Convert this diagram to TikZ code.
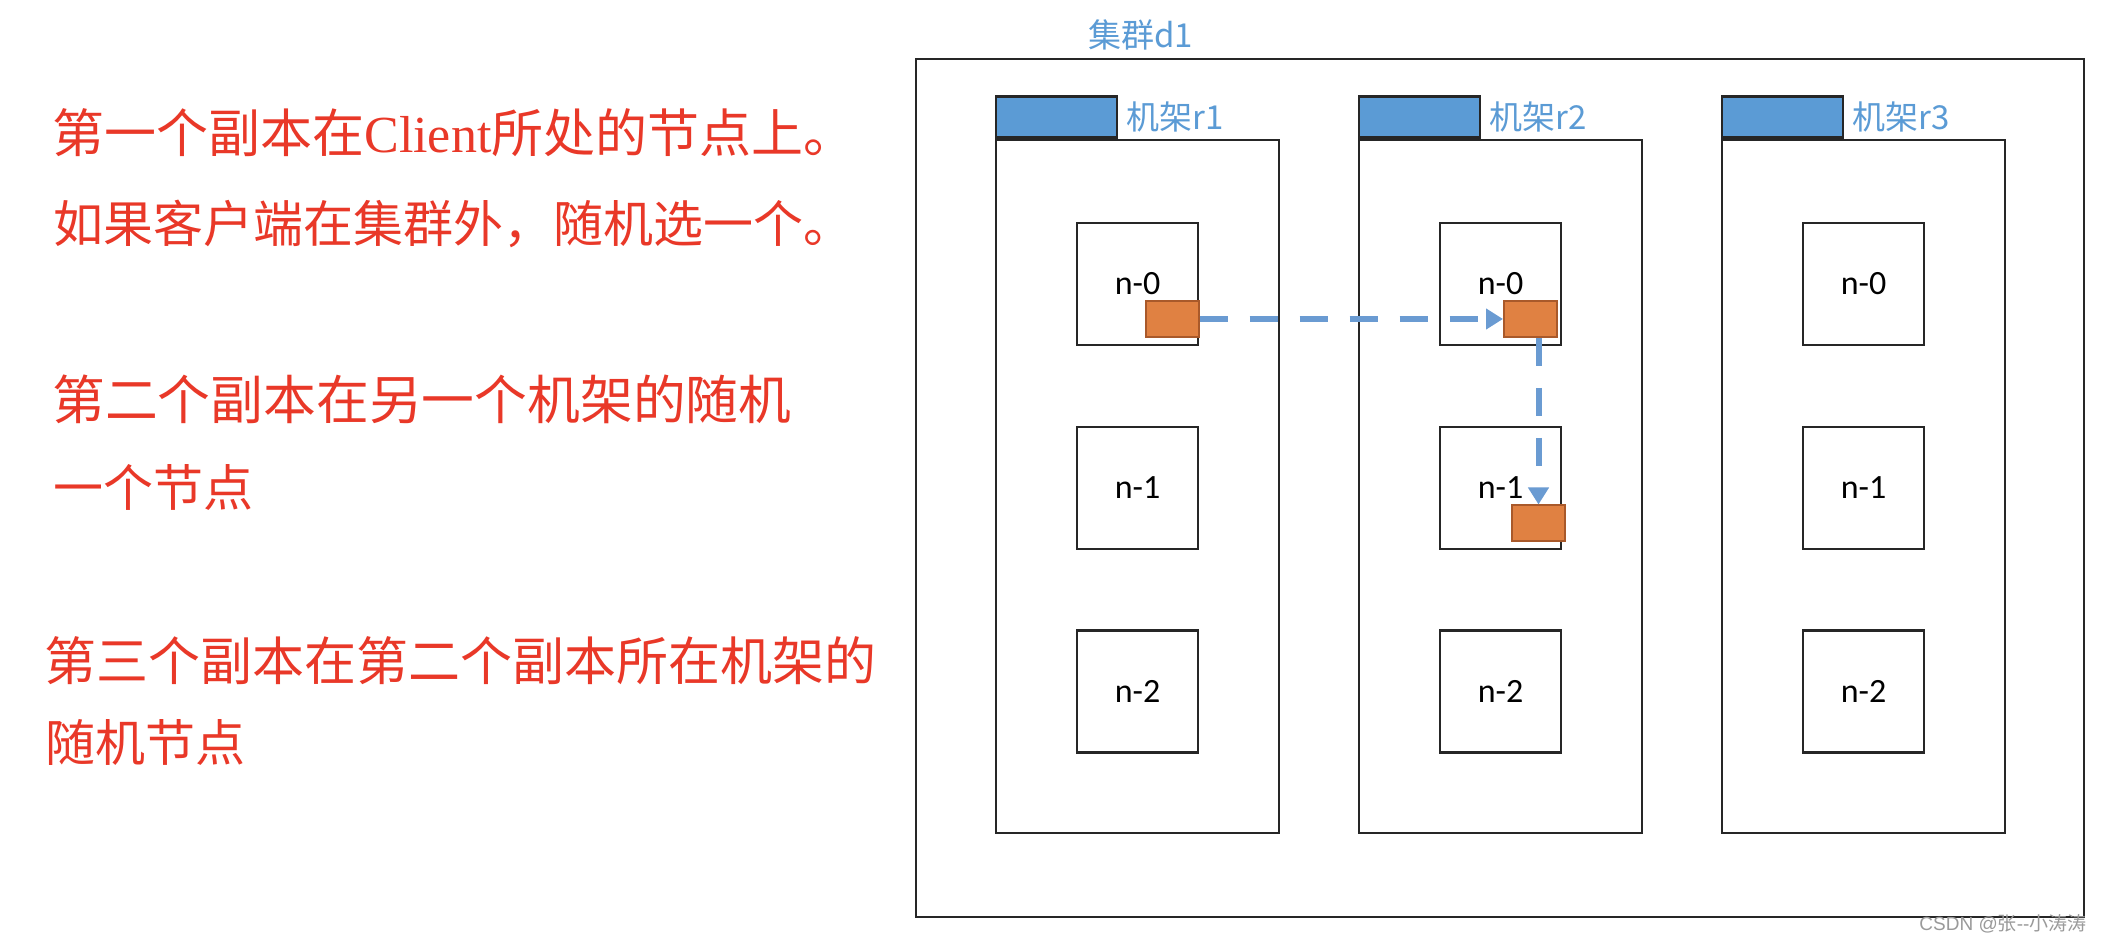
\documentclass[tikz,border=0pt]{standalone}
\usepackage{fontspec}
\setmainfont{Liberation Serif}
\newfontfamily\cjk{Noto Sans CJK SC}
\newfontfamily\lat{Carlito}
\newfontfamily\wmfont{Liberation Sans}
\usetikzlibrary{arrows.meta}
\definecolor{hdrblue}{HTML}{5B9BD5}
\definecolor{lblblue}{HTML}{5B9BD5}
\definecolor{flowblue}{HTML}{6A9BD2}
\definecolor{repfill}{HTML}{E08142}
\definecolor{repdraw}{HTML}{A9592A}
\definecolor{notered}{RGB}{233,56,40}
\definecolor{wmgray}{HTML}{9A9A9A}

\begin{document}
\begin{tikzpicture}[x=0.5pt,y=-0.5pt,
  frame/.style={draw=black!85, line width=1.2pt, fill=white, inner sep=0, rectangle},
  cluster/.style={frame, minimum width=584pt, minimum height=429pt},
  rackbody/.style={frame, minimum width=141.5pt, minimum height=346.5pt},
  rackhead/.style={draw=black!85, line width=1.2pt, fill=hdrblue, minimum width=60.5pt, minimum height=20.5pt, inner sep=0, anchor=south west},
  server/.style={frame, minimum width=60.5pt, minimum height=61pt, font=\lat\fontsize{17}{20}\selectfont},
  replica/.style={draw=repdraw, line width=1pt, fill=repfill, minimum width=26.5pt, minimum height=18pt, inner sep=0},
  tag/.style={text=lblblue, font=\cjk\fontsize{16.5}{20}\selectfont, inner sep=0, anchor=west},
  note/.style={text=notered, inner sep=0, anchor=base west, font=\cjk\fontsize{#1}{30}\selectfont},
  note/.default=26,
  flow/.style={draw=flowblue, line width=3pt, dash pattern=on 14pt off 11pt, -{Triangle[length=8.5pt,width=10pt]}}
]
\useasboundingbox (0,0) rectangle (2106,940);
\fill[white] (0,0) rectangle (2106,940);

% explanatory notes
\node[note=26]   (t1) at (52,153) {第一个副本在{\rmfamily Client}所处的节点上。};
\node[note=25]   (t2) at (53,243) {如果客户端在集群外，随机选一个。};
\node[note=26.4] (t3) at (52,420) {第二个副本在另一个机架的随机};
\node[note=25]   (t4) at (53,507) {一个节点};
\node[note=26]   (t5) at (44,681) {第三个副本在第二个副本所在机架的};
\node[note=25]   (t6) at (45,762) {随机节点};

% cluster
\node[cluster] (cl) at (1500,488) {};
\node[tag] (cltag) at (1088,35) {集群d1};

% racks with their servers
\foreach \r/\cx in {1/1137.5, 2/1500.5, 3/1863.5} {
  \node[rackbody] (b\r) at (\cx,486.5) {};
  \node[rackhead] (h\r) at (b\r.north west) {};
  \node[tag] (rt\r) at ([xshift=4pt]h\r.east) {机架r\r};
  \node[server] (s\r0) at (\cx,284) {n-0};
  \node[server] (s\r1) at (\cx,488) {n-1};
  \node[server] (s\r2) at (\cx,691.5) {n-2};
}

% replicas
\node[replica] (o1) at (1172,319) {};
\node[replica] (o2) at (1530.5,319) {};
\node[replica] (o3) at (1538.5,523.5) {};

% replication pipeline
\draw[flow] (o1.east) -- (o2.west);
\draw[flow] (o2.south -| o3.north) -- (o3.north);

% watermark
\node[font=\fontsize{9.5}{11}\selectfont, text=wmgray, inner sep=0] (wm) at (2003,924) {{\wmfont CSDN @}{\cjk 张}{\wmfont --}{\cjk 小涛涛}};
\end{tikzpicture}
\end{document}
